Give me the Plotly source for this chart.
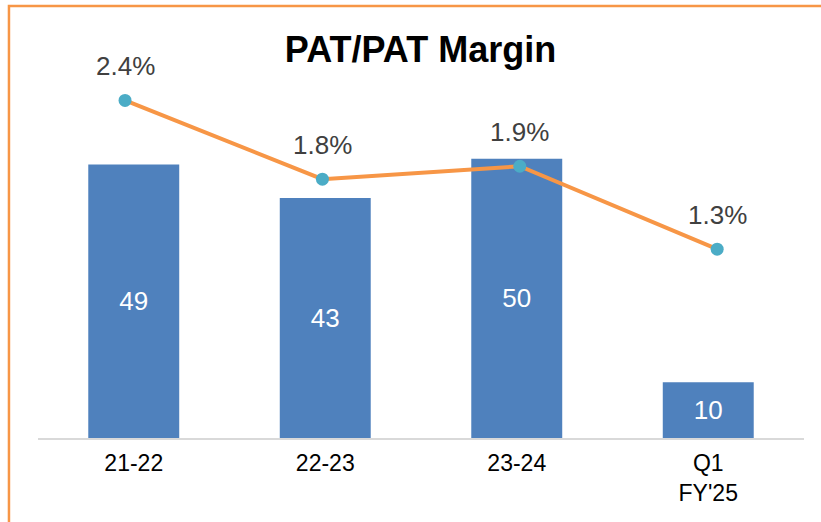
import plotly.graph_objects as go

categories = ["21-22", "22-23", "23-24", "Q1<br>FY'25"]
pat_values = [49, 43, 50, 10]
margin_values = [2.36, 1.81, 1.90, 1.32]
margin_labels = ["2.4%", "1.8%", "1.9%", "1.3%"]

FONT = "Liberation Sans, Arial, sans-serif"
BAR_COLOR = "#4F81BD"
LINE_COLOR = "#F79646"
MARKER_COLOR = "#4BACC6"

W, H = 821, 522

fig = go.Figure()

fig.add_trace(go.Bar(
    x=categories, y=pat_values,
    marker=dict(color=BAR_COLOR, line=dict(width=0)),
    text=[str(v) for v in pat_values],
    textposition="inside", insidetextanchor="middle",
    textfont=dict(color="white", size=26, family=FONT),
    width=0.475,
    xaxis="x", yaxis="y",
    showlegend=False,
))

fig.add_trace(go.Scatter(
    x=categories, y=margin_values,
    mode="lines+markers",
    line=dict(color=LINE_COLOR, width=4),
    marker=dict(color=MARKER_COLOR, size=13),
    xaxis="x2", yaxis="y2",
    showlegend=False,
))

for c, v, t in zip(categories, margin_values, margin_labels):
    fig.add_annotation(
        x=c, y=v, xref="x2", yref="y2", text=t, showarrow=False,
        yshift=34, font=dict(size=26, color="#404040", family=FONT),
    )

fig.update_layout(
    width=W, height=H,
    margin=dict(l=38, r=17, t=60, b=84),
    paper_bgcolor="white", plot_bgcolor="white",
    font=dict(family=FONT),
    title=dict(
        text="<b>PAT/PAT Margin</b>",
        x=420.5 / W, xref="container", xanchor="center",
        y=1 - 49 / H, yref="container", yanchor="middle",
        font=dict(size=36, color="black", family=FONT),
    ),
    xaxis=dict(
        type="category", range=[-0.5, 3.5],
        showline=True, linecolor="#D9D9D9", linewidth=2,
        showgrid=False, zeroline=False, ticks="",
        ticklabelstandoff=3,
        tickfont=dict(size=23, color="black", family=FONT),
        fixedrange=True,
    ),
    xaxis2=dict(
        type="category", range=[-0.441, 3.44], overlaying="x",
        visible=False, fixedrange=True,
    ),
    yaxis=dict(range=[0, 67.7], visible=False, fixedrange=True),
    yaxis2=dict(range=[0, 2.643], overlaying="y", visible=False, fixedrange=True),
    shapes=[dict(
        type="rect", xref="paper", yref="paper",
        x0=-0.0379, x1=1.2, y0=-0.4, y1=1.1429,
        line=dict(color=LINE_COLOR, width=2.5), fillcolor="rgba(0,0,0,0)",
        layer="above",
    )],
)

fig.write_html(
    "out.html",
    config={"displayModeBar": False, "staticPlot": True},
    post_script="document.body.style.margin='0';document.body.style.overflow='hidden';",
)
